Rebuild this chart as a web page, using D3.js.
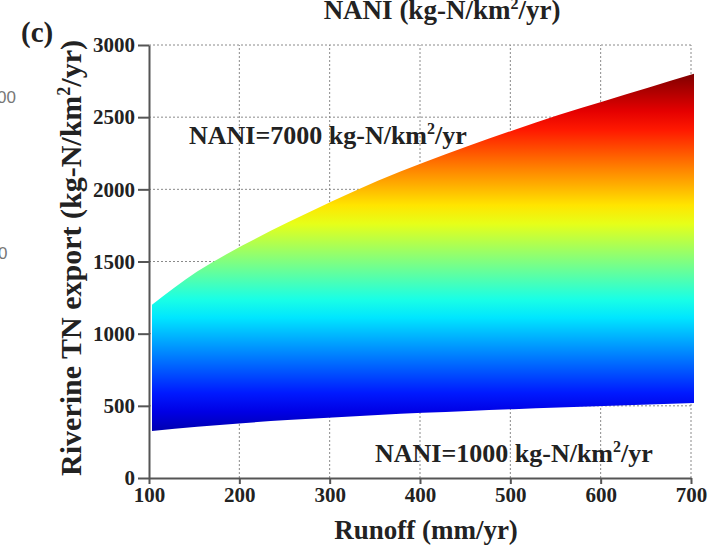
<!DOCTYPE html>
<html>
<head>
<meta charset="utf-8">
<script src="https://cdn.jsdelivr.net/npm/d3@7"></script>
<style>
  body { margin: 0; background: #fff; }
  svg text { font-family: "Liberation Serif", "Times New Roman", serif; font-weight: bold; fill: #222; }
  .grid line { stroke: #8a8a8a; stroke-width: 1; stroke-dasharray: 2,2; }
  .axis path, .axis line { stroke: #555; stroke-width: 2; }
  .axis text { font-size: 21px; font-family: "Liberation Serif", serif; }
</style>
</head>
<body>
<div id="chart"></div>
<script>
// runoff (mm/yr) where the two NANI boundary curves were read
var runoff = [100, 150, 200, 250, 300, 350, 400, 450, 500, 550, 600, 650, 700];
// NANI = 7000 kg-N/km2/yr (upper edge)
var upperTN = [1200, 1430, 1610, 1770, 1920, 2060, 2185, 2300, 2410, 2515, 2610, 2705, 2800];
// NANI = 1000 kg-N/km2/yr (lower edge)
var lowerTN = [326, 355, 380, 402, 420, 437, 452, 465, 477, 488, 499, 510, 520];

var xTicks = [100, 200, 300, 400, 500, 600, 700];
var yTicks = [0, 500, 1000, 1500, 2000, 2500, 3000];

// jet colour map, stretched over TN export
var jetDomain = [200, 2800];
var jetStops = ["#00007f", "#0000ff", "#00ffff", "#ffff00", "#ff0000", "#7f0000"];
var jetPos = [0, 0.125, 0.375, 0.625, 0.875, 1];

var width = 722, height = 548;
var margin = {top: 45, right: 31, bottom: 70, left: 149};

var svg = d3.select("#chart").append("svg")
    .attr("width", width)
    .attr("height", height);

var x = d3.scaleLinear().domain([100, 700]).range([margin.left, width - margin.right]);
var y = d3.scaleLinear().domain([0, 3000]).range([height - margin.bottom, margin.top]);

var data = runoff.map(function(r, i) { return {r: r, hi: upperTN[i], lo: lowerTN[i]}; });

// grid
var grid = svg.append("g").attr("class", "grid");
grid.selectAll(".gx").data(xTicks.slice(1)).enter().append("line")
    .attr("x1", function(d) { return x(d); }).attr("x2", function(d) { return x(d); })
    .attr("y1", y(0)).attr("y2", y(3000));
grid.selectAll(".gy").data(yTicks.slice(1)).enter().append("line")
    .attr("x1", x(100)).attr("x2", x(700))
    .attr("y1", function(d) { return y(d); }).attr("y2", function(d) { return y(d); });

// vertical colour gradient by TN value
var jet = d3.scaleLinear().domain(jetPos).range(jetStops);
var grad = svg.append("defs").append("linearGradient")
    .attr("id", "jet")
    .attr("gradientUnits", "userSpaceOnUse")
    .attr("x1", 0).attr("x2", 0)
    .attr("y1", y(jetDomain[0])).attr("y2", y(jetDomain[1]));
d3.range(0, 1.0001, 0.05).forEach(function(t) {
    grad.append("stop").attr("offset", t).attr("stop-color", jet(t));
});

var area = d3.area()
    .x(function(d) { return x(d.r); })
    .y0(function(d) { return y(d.lo); })
    .y1(function(d) { return y(d.hi); })
    .curve(d3.curveMonotoneX);

svg.append("path")
    .datum(data)
    .attr("d", area)
    .attr("transform", "translate(3,0)")
    .attr("fill", "url(#jet)");

// axes
svg.append("g")
    .attr("class", "axis")
    .attr("transform", "translate(0," + y(0) + ")")
    .call(d3.axisBottom(x).tickValues(xTicks).tickFormat(d3.format("d"))
        .tickSize(6).tickPadding(3).tickSizeOuter(0));

svg.append("g")
    .attr("class", "axis")
    .attr("transform", "translate(" + x(100) + ",0)")
    .call(d3.axisLeft(y).tickValues(yTicks).tickFormat(d3.format("d"))
        .tickSize(11).tickPadding(3).tickSizeOuter(0));

// labels
svg.append("text")
    .attr("x", 426).attr("y", 539)
    .attr("text-anchor", "middle")
    .style("font-size", "27px")
    .text("Runoff (mm/yr)");

var yl = svg.append("text")
    .attr("transform", "translate(81," + 258 + ") rotate(-90)")
    .attr("text-anchor", "middle")
    .style("font-size", "30px");
yl.append("tspan").text("Riverine TN export (kg-N/km");
yl.append("tspan").attr("dy", -11).style("font-size", "18px").text("2");
yl.append("tspan").attr("dy", 11).text("/yr)");

function naniLabel(tx, ty, txt) {
    var t = svg.append("text").attr("x", tx).attr("y", ty).style("font-size", "26px");
    t.append("tspan").text(txt + " kg-N/km");
    t.append("tspan").attr("dy", -10).style("font-size", "16px").text("2");
    t.append("tspan").attr("dy", 10).text("/yr");
}
naniLabel(189, 144, "NANI=7000");
naniLabel(375, 462, "NANI=1000");

var title = svg.append("text")
    .attr("x", 442).attr("y", 19)
    .attr("text-anchor", "middle")
    .style("font-size", "27px");
title.append("tspan").text("NANI (kg-N/km");
title.append("tspan").attr("dy", -10).style("font-size", "16px").text("2");
title.append("tspan").attr("dy", 10).text("/yr)");

svg.append("text")
    .attr("x", 21).attr("y", 42)
    .style("font-size", "29px")
    .text("(c)");

// fragments of the neighbouring panel's colour bar
svg.append("text").attr("x", -3).attr("y", 103)
    .style("font-family", "Liberation Sans, sans-serif").style("font-weight", "normal")
    .style("font-size", "17px").style("fill", "#777").text("00");
svg.append("text").attr("x", -2).attr("y", 259)
    .style("font-family", "Liberation Sans, sans-serif").style("font-weight", "normal")
    .style("font-size", "17px").style("fill", "#777").text("0");
</script>
</body>
</html>
